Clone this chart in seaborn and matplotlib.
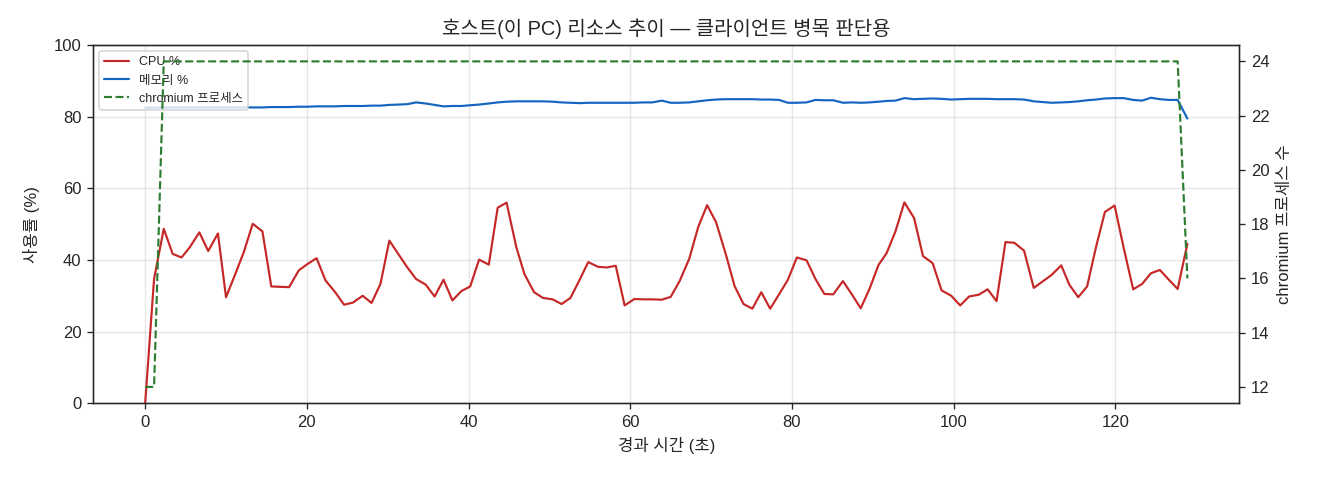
import seaborn as sns
import pandas as pd
from matplotlib import pyplot as plt

# 경과 시간 (초)
elapsed = [0.0, 1.1, 2.3, 3.4, 4.5, 5.5, 6.7, 7.8, 9.0, 10.0,
           11.1, 12.2, 13.3, 14.5, 15.6, 16.7, 17.8, 19.0, 20.1, 21.2,
           22.3, 23.5, 24.6, 25.7, 26.9, 28.0, 29.1, 30.2, 31.3, 32.4,
           33.5, 34.7, 35.8, 36.9, 38.0, 39.1, 40.2, 41.3, 42.5, 43.6,
           44.7, 45.9, 46.9, 48.1, 49.2, 50.4, 51.5, 52.6, 53.7, 54.8,
           56.0, 57.1, 58.2, 59.3, 60.5, 61.6, 62.7, 63.9, 65.0, 66.1,
           67.3, 68.4, 69.5, 70.6, 71.8, 72.9, 74.0, 75.1, 76.2, 77.3,
           78.4, 79.5, 80.6, 81.8, 82.9, 84.0, 85.1, 86.3, 87.4, 88.5,
           89.6, 90.7, 91.7, 92.8, 93.9, 95.1, 96.2, 97.4, 98.5, 99.7,
           100.8, 101.9, 103.1, 104.2, 105.3, 106.4, 107.5, 108.7, 109.9, 111.0,
           112.1, 113.3, 114.3, 115.4, 116.5, 117.6, 118.7, 119.9, 121.0, 122.2,
           123.3, 124.4, 125.5, 126.6, 127.7, 128.9]

cpu = [0.0, 34.7, 48.7, 41.7, 40.7, 43.5, 47.7, 42.5, 47.4, 29.6,
       35.8, 42.2, 50.1, 48.0, 32.6, 32.5, 32.4, 37.1, 38.9, 40.5,
       34.3, 31.0, 27.5, 28.1, 30.0, 28.0, 33.3, 45.4, 41.7, 38.0,
       34.7, 33.1, 29.8, 34.5, 28.7, 31.3, 32.6, 40.1, 38.7, 54.6,
       56.0, 43.6, 36.1, 31.0, 29.4, 29.0, 27.7, 29.4, 34.3, 39.4,
       38.1, 37.9, 38.4, 27.3, 29.1, 29.0, 29.0, 28.9, 29.7, 34.1,
       40.4, 49.2, 55.3, 50.6, 41.7, 32.7, 27.7, 26.4, 31.0, 26.4,
       30.4, 34.5, 40.7, 39.9, 34.7, 30.5, 30.4, 34.1, 30.4, 26.5,
       32.0, 38.6, 41.9, 48.0, 56.1, 51.7, 41.1, 39.1, 31.5, 30.0,
       27.3, 29.8, 30.3, 31.8, 28.5, 45.0, 44.8, 42.6, 32.2, 34.0,
       35.8, 38.5, 33.1, 29.6, 32.6, 43.6, 53.4, 55.2, 43.6, 31.8,
       33.3, 36.3, 37.2, 34.5, 31.9, 44.5]

memory = [82.5, 82.5, 82.6, 82.6, 82.6, 82.6, 82.6, 82.6, 82.6, 82.6,
          82.6, 82.6, 82.6, 82.6, 82.7, 82.7, 82.7, 82.8, 82.8, 82.9,
          82.9, 82.9, 83.0, 83.0, 83.0, 83.1, 83.1, 83.3, 83.4, 83.5,
          84.0, 83.7, 83.3, 82.9, 83.0, 83.0, 83.2, 83.4, 83.7, 84.0,
          84.2, 84.3, 84.3, 84.3, 84.3, 84.2, 84.0, 83.9, 83.8, 83.9,
          83.9, 83.9, 83.9, 83.9, 83.9, 84.0, 84.0, 84.5, 83.9, 83.9,
          84.0, 84.3, 84.6, 84.8, 84.9, 84.9, 84.9, 84.9, 84.8, 84.8,
          84.7, 83.9, 83.9, 84.0, 84.7, 84.6, 84.6, 83.9, 84.0, 83.9,
          84.0, 84.2, 84.4, 84.5, 85.2, 84.9, 85.0, 85.1, 85.0, 84.8,
          84.9, 85.0, 85.0, 85.0, 84.9, 84.9, 84.9, 84.8, 84.3, 84.1,
          83.9, 84.0, 84.1, 84.3, 84.6, 84.8, 85.1, 85.2, 85.2, 84.7,
          84.5, 85.3, 84.9, 84.7, 84.7, 79.5]

chromium = [12, 12] + [24] * 113 + [16]

df = pd.DataFrame({"t": elapsed, "cpu": cpu, "mem": memory, "chromium": chromium})

sns.set_style("ticks")
plt.rcParams["font.family"] = ["Liberation Sans", "Noto Sans CJK KR", "DejaVu Sans"]
plt.rcParams["axes.unicode_minus"] = False

fig, ax1 = plt.subplots(figsize=(11, 4), dpi=120)
fig.subplots_adjust(left=0.0705, right=0.939, top=0.906, bottom=0.16)

sns.lineplot(data=df, x="t", y="cpu", ax=ax1, color="#c62828", linewidth=1.3, label="CPU %")
sns.lineplot(data=df, x="t", y="mem", ax=ax1, color="#1565c0", linewidth=1.3, label="메모리 %")
ax1.set_ylim(0, 100)
ax1.set_xlabel("경과 시간 (초)", fontsize=10)
ax1.set_ylabel("사용률 (%)", fontsize=10, labelpad=8)
ax1.grid(True, color="#b0b0b0", alpha=0.3, linewidth=0.8)
ax1.tick_params(labelsize=10)

ax2 = ax1.twinx()
sns.lineplot(data=df, x="t", y="chromium", ax=ax2, color="#2e7d32", linewidth=1.3,
             linestyle="--", label="chromium 프로세스")
ax2.set_ylabel("chromium 프로세스 수", fontsize=10)
ax2.set_yticks([12, 14, 16, 18, 20, 22, 24])
ax2.tick_params(labelsize=10)
if ax2.get_legend() is not None:
    ax2.get_legend().remove()

h1, l1 = ax1.get_legend_handles_labels()
h2, l2 = ax2.get_legend_handles_labels()
ax1.legend(h1 + h2, l1 + l2, loc="upper left", fontsize=7.5)

ax1.set_title("호스트(이 PC) 리소스 추이 — 클라이언트 병목 판단용", fontsize=12)

plt.savefig("out.png")
